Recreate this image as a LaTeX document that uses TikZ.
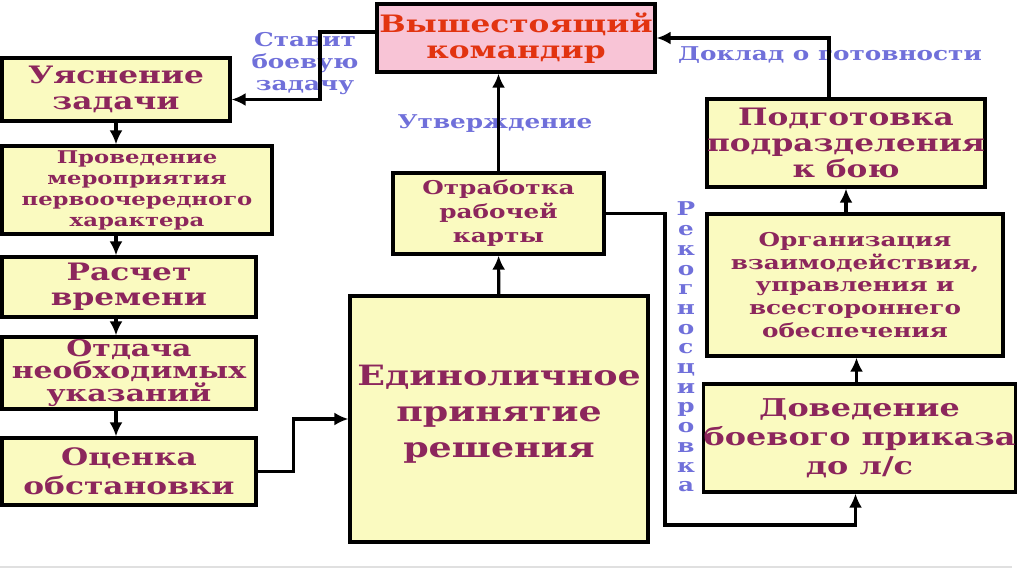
\documentclass[tikz,border=0pt]{standalone}
\usepackage{fontspec}
\usetikzlibrary{arrows.meta}
\newfontfamily\boxfont{DejaVu Serif}[FakeStretch=1.3]
\definecolor{boxfill}{RGB}{250,250,192}
\definecolor{cmdfill}{RGB}{248,196,214}
\definecolor{cmdtext}{RGB}{226,52,16}
\definecolor{boxtext}{RGB}{140,38,92}
\definecolor{labtext}{RGB}{112,112,218}
\begin{document}
\begin{tikzpicture}[x=1pt, y=-1pt, >={Latex[length=14pt,width=13pt]}]
      \tikzstyle{box}=[draw, line width=3.2pt, fill=boxfill, text=boxtext, align=center, inner sep=0pt]
      \tikzstyle{lab}=[text=labtext, align=center, inner sep=0pt, font=\boxfont\bfseries\fontsize{19}{22}\selectfont]
      \tikzstyle{con}=[line width=3.2pt]
      \useasboundingbox (0,0) rectangle (1024,574);
      \draw[black!12, line width=1.5pt] (0,567) -- (1012,567);
      \node[box, fill=cmdfill, text=cmdtext, minimum width=278pt, minimum height=68pt, font=\boxfont\bfseries\fontsize{24}{26}\selectfont] (cmd) at (516,38) {Вышестоящий\\командир};
      \node[box, minimum width=228pt, minimum height=63pt, font=\boxfont\bfseries\fontsize{24}{26}\selectfont] (ujas) at (116,89.5) {Уяснение\\задачи};
      \node[box, minimum width=270pt, minimum height=88pt, font=\boxfont\bfseries\fontsize{17.5}{21}\selectfont] (prov) at (137,190) {Проведение\\мероприятия\\первоочередного\\характера};
      \node[box, minimum width=254pt, minimum height=60pt, font=\boxfont\bfseries\fontsize{24}{25}\selectfont] (rasch) at (129,287) {Расчет\\времени};
      \node[box, minimum width=254pt, minimum height=72pt, font=\boxfont\bfseries\fontsize{23}{22.5}\selectfont] (otd) at (129,373) {Отдача\\необходимых\\указаний};
      \node[box, minimum width=254pt, minimum height=67pt, font=\boxfont\bfseries\fontsize{24}{29}\selectfont] (ocen) at (129,471.5) {Оценка\\обстановки};
      \node[box, minimum width=298pt, minimum height=246pt, font=\boxfont\bfseries\fontsize{28}{36}\selectfont] (edin) at (499,419) {Единоличное\\принятие\\решения\\[-20pt]};
      \node[box, minimum width=211pt, minimum height=81pt, font=\boxfont\bfseries\fontsize{19}{24}\selectfont] (otrab) at (498.5,213.5) {Отработка\\рабочей\\карты};
      \node[box, minimum width=276pt, minimum height=88pt, font=\boxfont\bfseries\fontsize{24}{26}\selectfont] (podg) at (846,143) {Подготовка\\подразделения\\к бою};
      \node[box, minimum width=296pt, minimum height=142pt, font=\boxfont\bfseries\fontsize{19}{22.7}\selectfont] (org) at (855,285) {Организация\\взаимодействия,\\управления и\\всестороннего\\обеспечения};
      \node[box, minimum width=305pt, minimum height=108pt, font=\boxfont\bfseries\fontsize{24.5}{29}\selectfont] (dov) at (859.5,438) {Доведение\\боевого приказа\\до л/с};
      \node[lab] (stav) at (305,64) {Ставит\\боевую\\задачу};
      \node[lab] (utv) at (495,124) {Утверждение};
      \node[lab] (dokl) at (830,55) {Доклад о готовности};
      \node[lab, font=\boxfont\bfseries\fontsize{19}{19.7}\selectfont] (rek) at (686,347) {Р\\е\\к\\о\\г\\н\\о\\с\\ц\\и\\р\\о\\в\\к\\а};
      \coordinate (bendA) at (320,0);
      \coordinate (bendB) at (665,525);
      \draw[con, ->] ([yshift=6pt]cmd.west) -- ([yshift=6pt]cmd.west -| bendA) |- ([yshift=-10pt]ujas.east);
      \draw[con, ->] (ujas.south) -- (ujas.south |- prov.north);
      \draw[con, ->] (ujas.south |- prov.south) -- (ujas.south |- rasch.north);
      \draw[con, ->] (ujas.south |- rasch.south) -- (ujas.south |- otd.north);
      \draw[con, ->] (ujas.south |- otd.south) -- (ujas.south |- ocen.north);
      \draw[con, ->] (ocen.east) -- ++(36,0) |- (edin.west);
      \draw[con, ->] (edin) -- (otrab);
      \draw[con, ->] (otrab.north) -- (otrab.north |- cmd.south);
      \draw[con, ->] (otrab.east) -| (bendB) -| ([xshift=-4pt]dov.south);
      \draw[con, ->] ([xshift=-3pt]dov.north) -- ([xshift=-3pt]dov.north |- org.south);
      \draw[con, ->] (org.north -| podg.south) -- (podg.south);
      \draw[con, ->] ([xshift=-17pt]podg.north) |- (cmd.east);
    \end{tikzpicture}
\end{document}
